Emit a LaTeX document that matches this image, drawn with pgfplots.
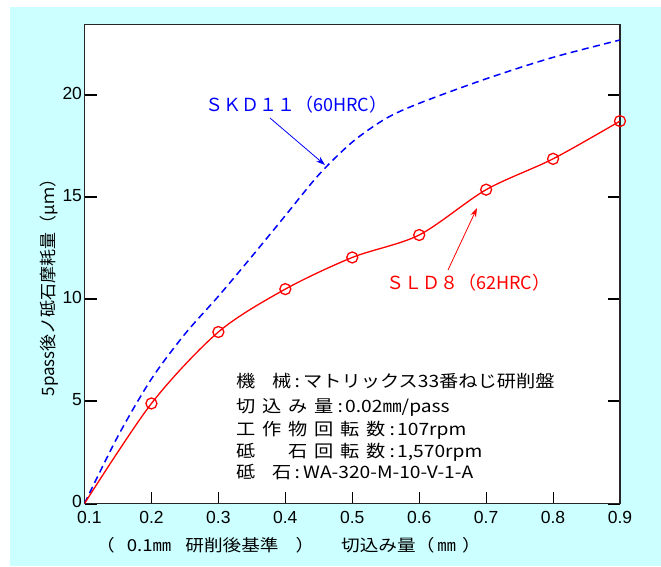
\documentclass[border=0pt]{standalone}
\usepackage{pgfplots}
\pgfplotsset{compat=1.18}
\usetikzlibrary{arrows.meta}
\usepackage{fontspec}
\setmainfont{Liberation Sans}
\newfontfamily\cjk{Noto Sans CJK JP}
\newfontfamily\cjkw[FakeStretch=1.13]{Noto Sans CJK JP}
\definecolor{bgcyan}{RGB}{204,255,255}
\definecolor{skdblue}{RGB}{0,0,255}
\definecolor{sldred}{RGB}{255,0,0}

\begin{document}
\begin{tikzpicture}[x=1pt,y=1pt]
\useasboundingbox (0,0) rectangle (661,566);
\fill[white] (0,0) rectangle (661,566);
\fill[bgcyan] (10,0) rectangle (661,559);
\begin{axis}[
  at={(84.5pt,62.5pt)}, anchor=south west,
  scale only axis, width=535.5pt, height=478.8pt,
  xmin=0.1, xmax=0.9, ymin=0, ymax=23.45,
  axis background/.style={fill=white},
  axis line style={line width=1.2pt, black!85},
  xtick={0.1,0.2,0.3,0.4,0.5,0.6,0.7,0.8,0.9},
  xticklabels={\hphantom{0}0.1,0.2,0.3,0.4,0.5,0.6,0.7,0.8,0.9},
  ytick={0,5,10,15,20},
  xtick pos=bottom, ytick pos=both, yticklabel pos=left,
  tick align=inside,
  major tick length=12pt,
  x tick style={line width=0.8pt, black},
  y tick style={line width=2pt, black},
  ticklabel style={font=\fontsize{17.5}{17.5}\selectfont, black},
  /pgf/number format/assume math mode=true,
  xticklabel style={yshift=-4pt},
  yticklabel style={yshift=2pt, xshift=1pt},
]
\addplot[skdblue, line width=1.5pt, dash pattern=on 7pt off 4.5pt, smooth, no markers]
  coordinates {(0.1,0) (0.15,3.3) (0.2,6.1) (0.25,8.3) (0.3,10.15) (0.35,12.1) (0.4,14.1) (0.45,16.1) (0.5,17.7) (0.55,18.85) (0.6,19.6) (0.7,20.8) (0.8,21.85) (0.9,22.7)};
\addplot[sldred, line width=1.3pt, smooth, mark=o, mark size=5.5pt, mark indices={2,3,4,5,6,7,8,9},
  mark options={solid, fill=white, line width=1.3pt}]
  coordinates {(0.1,0) (0.2,4.9) (0.3,8.4) (0.4,10.5) (0.5,12.05) (0.6,13.15) (0.7,15.37) (0.8,16.88) (0.9,18.73)};
\end{axis}
% curve labels
\node[anchor=west, inner sep=0, text=skdblue] at (205,461)
  {\cjk\fontsize{18}{18}\selectfont ＳＫＤ１１（60HRC）};
\draw[skdblue, line width=0.8pt, -{Stealth[length=9pt,width=6pt]}] (270,448) -- (325,401);
\node[anchor=west, inner sep=0, text=sldred] at (386,283)
  {\cjk\fontsize{18}{18}\selectfont ＳＬＤ８（62HRC）};
\draw[sldred, line width=0.8pt, -{Stealth[length=9pt,width=6pt]}] (448,296) -- (477,358);
% info block
\begin{scope}[every node/.style={anchor=west, inner sep=0, font=\cjkw\fontsize{17}{17}\selectfont}]
\node at (236,184.5) {\makebox[36pt][l]{機}\makebox[19pt][l]{械}\makebox[12pt][c]{:}マトリックス33番ねじ研削盤};
\node at (236,158.5) {\makebox[26pt][l]{切}\makebox[26pt][l]{込}\makebox[26pt][l]{み}\makebox[21pt][l]{量}\makebox[10pt][c]{:}0.02㎜/pass};
\node at (236,135.5) {\makebox[26pt][l]{工}\makebox[26pt][l]{作}\makebox[26pt][l]{物}\makebox[26pt][l]{回}\makebox[26pt][l]{転}\makebox[21pt][l]{数}\makebox[10pt][c]{:}107rpm};
\node at (236,113.5) {\makebox[52pt][l]{砥}\makebox[26pt][l]{石}\makebox[26pt][l]{回}\makebox[26pt][l]{転}\makebox[21pt][l]{数}\makebox[10pt][c]{:}1,570rpm};
\node at (236,93.5) {\makebox[36pt][l]{砥}\makebox[19pt][l]{石}\makebox[12pt][c]{:}WA-320-M-10-V-1-A};
\end{scope}
% axis titles
\node[anchor=west, inner sep=0] at (96,21)
  {\cjkw\fontsize{16.5}{16.5}\selectfont （\hspace{12pt}0.1㎜\hspace{14pt}研削後基準\hspace{17pt}）};
\node[anchor=west, inner sep=0] at (341,21)
  {\cjkw\fontsize{16.5}{16.5}\selectfont 切込み量（\hspace{3pt}㎜\hspace{6pt}）};
\node[rotate=90, inner sep=0] at (49,282.5)
  {\cjk\fontsize{17}{17}\selectfont 5pass後ノ砥石摩耗量（μｍ）};
\end{tikzpicture}
\end{document}
